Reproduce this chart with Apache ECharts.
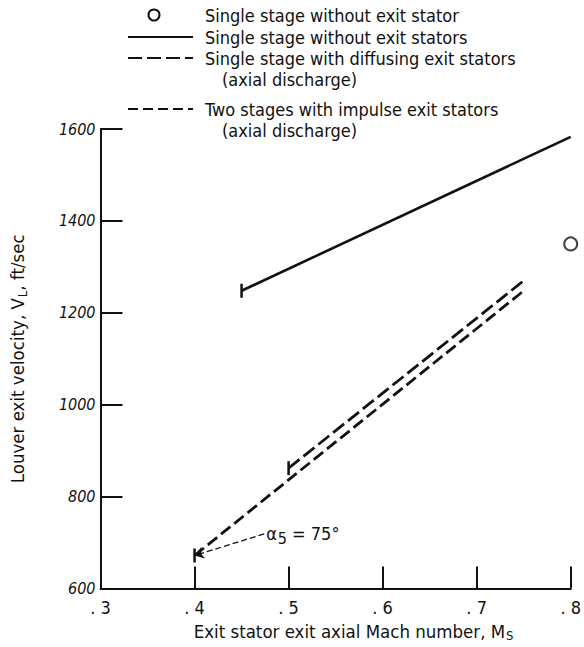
<!DOCTYPE html>
<html>
<head>
<meta charset="utf-8">
<script src="https://cdn.jsdelivr.net/npm/echarts@6/dist/echarts.min.js"></script>
<style>
  html, body { margin: 0; padding: 0; background: #fff; }
  #chart { width: 584px; height: 647px; }
</style>
</head>
<body>
<div id="chart"></div>
<script>
// ---- data ----
const xTickValues = [0.3, 0.4, 0.5, 0.6, 0.7, 0.8];
const yTickValues = [600, 800, 1000, 1200, 1400, 1600];

const seriesNames = [
  'Single stage without exit stator',
  'Single stage without exit stators',
  'Single stage with diffusing exit stators',
  'Two stages with impulse exit stators'
];
const seriesSubNames = ['', '', '(axial discharge)', '(axial discharge)'];

const circleX = [0.8];
const circleY = [1350];

const solidX = [0.45, 0.8];
const solidY = [1248, 1583];

const diffusingX = [0.5, 0.75];
const diffusingY = [862, 1270];

const twoStageX = [0.4, 0.75];
const twoStageY = [672, 1248];

const noteText = 'α{sub|5} = 75°';
const noteAnchor = [0.474, 719];
const noteTarget = [0.4, 672];

// ---- build ----
const FONT = '"DejaVu Sans Condensed", "DejaVu Sans", sans-serif';
const INK = '#111';

function pairs(xs, ys, withStartTick) {
  return xs.map((x, i) => {
    if (i === 0 && withStartTick) {
      return { value: [x, ys[i]], symbol: 'rect', symbolSize: [2.5, 14] };
    }
    return { value: [x, ys[i]], symbol: 'none' };
  });
}

const chart = echarts.init(document.getElementById('chart'), null, { renderer: 'svg' });

// legend built as graphic elements
const legendRowsY = [15, 37, 58, 79, 109, 130];
const legendGraphics = [];
const symX1 = 128, symX2 = 193, textX = 205, subX = 222;
const legendDash = [null, null, [14, 5], [10, 5]];
let row = 0;
seriesNames.forEach((name, i) => {
  const y = legendRowsY[row];
  if (i === 0) {
    legendGraphics.push({
      type: 'circle', shape: { cx: 154, cy: y, r: 5.5 },
      style: { fill: 'none', stroke: INK, lineWidth: 2 }
    });
  } else {
    legendGraphics.push({
      type: 'line', shape: { x1: symX1, y1: y, x2: symX2, y2: y },
      style: { stroke: INK, lineWidth: 2.2, lineDash: legendDash[i] }
    });
  }
  legendGraphics.push({
    type: 'text', x: textX, y: y,
    style: { text: name, font: '18px ' + FONT, fill: INK, textVerticalAlign: 'middle' }
  });
  row++;
  if (seriesSubNames[i]) {
    legendGraphics.push({
      type: 'text', x: subX, y: legendRowsY[row],
      style: { text: seriesSubNames[i], font: '18px ' + FONT, fill: INK, textVerticalAlign: 'middle' }
    });
    row++;
  }
});

const option = {
  backgroundColor: '#fff',
  animation: false,
  grid: { left: 96, right: 9, top: 129, bottom: 55, containLabel: false },
  xAxis: {
    type: 'value',
    min: xTickValues[0], max: xTickValues[xTickValues.length - 1], interval: 0.1,
    name: 'Exit stator exit axial Mach number, M{sub|S}',
    nameLocation: 'middle', nameGap: 29,
    nameTextStyle: {
      fontFamily: FONT, fontSize: 18.5, color: INK, padding: [0, 0, 0, 36],
      rich: { sub: { fontFamily: FONT, fontSize: 13, color: INK, padding: [9, 0, 0, 1] } }
    },
    axisLine: { show: true, onZero: false, lineStyle: { color: INK, width: 2 } },
    axisTick: { show: true, inside: true, length: 22, lineStyle: { color: INK, width: 2 } },
    splitLine: { show: false },
    axisLabel: {
      margin: 10, fontFamily: FONT, fontSize: 18, color: INK,
      formatter: v => '. ' + Math.round(v * 10)
    }
  },
  yAxis: {
    type: 'value',
    min: yTickValues[0], max: yTickValues[yTickValues.length - 1], interval: 200,
    name: 'Louver exit velocity, V{sub|L}, ft/sec',
    nameLocation: 'middle', nameGap: 72, nameRotate: 90,
    nameTextStyle: {
      fontFamily: FONT, fontSize: 18.5, color: INK,
      rich: { sub: { fontFamily: FONT, fontSize: 13, color: INK, padding: [9, 0, 0, 1] } }
    },
    axisLine: { show: true, onZero: false, lineStyle: { color: INK, width: 2 } },
    axisTick: { show: true, inside: true, length: 22, lineStyle: { color: INK, width: 2 } },
    splitLine: { show: false },
    axisLabel: {
      margin: 5, fontFamily: FONT, fontSize: 16, fontStyle: 'italic', color: INK,
      formatter: v => String(v)
    }
  },
  graphic: legendGraphics,
  series: [
    {
      name: seriesNames[0], type: 'scatter',
      data: circleX.map((x, i) => [x, circleY[i]]),
      symbol: 'circle', symbolSize: 13,
      itemStyle: { color: 'rgba(0,0,0,0)', borderColor: INK, borderWidth: 2 }
    },
    {
      name: seriesNames[1], type: 'line',
      data: pairs(solidX, solidY, true),
      showSymbol: true, symbol: 'none',
      itemStyle: { color: INK },
      lineStyle: { color: INK, width: 2.6 }
    },
    {
      name: seriesNames[2], type: 'line',
      data: pairs(diffusingX, diffusingY, true),
      showSymbol: true, symbol: 'none',
      itemStyle: { color: INK },
      lineStyle: { color: INK, width: 2.8, type: [14, 5] }
    },
    {
      name: seriesNames[3], type: 'line',
      data: pairs(twoStageX, twoStageY, true),
      showSymbol: true, symbol: 'none',
      itemStyle: { color: INK },
      lineStyle: { color: INK, width: 2.8, type: [12, 5] },
      markLine: {
        silent: true, animation: false,
        symbol: ['none', 'arrow'], symbolSize: 9,
        lineStyle: { color: INK, width: 1.3, type: [6, 3] },
        label: { show: false },
        data: [[{ coord: noteAnchor }, { coord: noteTarget }]]
      },
      markPoint: {
        silent: true, animation: false,
        symbol: 'circle', symbolSize: 0,
        data: [{ coord: noteAnchor }],
        label: {
          show: true, position: 'right', distance: 2,
          formatter: noteText,
          fontFamily: FONT, fontSize: 18, color: INK,
          rich: { sub: { fontFamily: FONT, fontSize: 16, color: INK, padding: [10, 0, 0, 1] } }
        }
      }
    }
  ]
};
chart.setOption(option);
</script>
</body>
</html>
